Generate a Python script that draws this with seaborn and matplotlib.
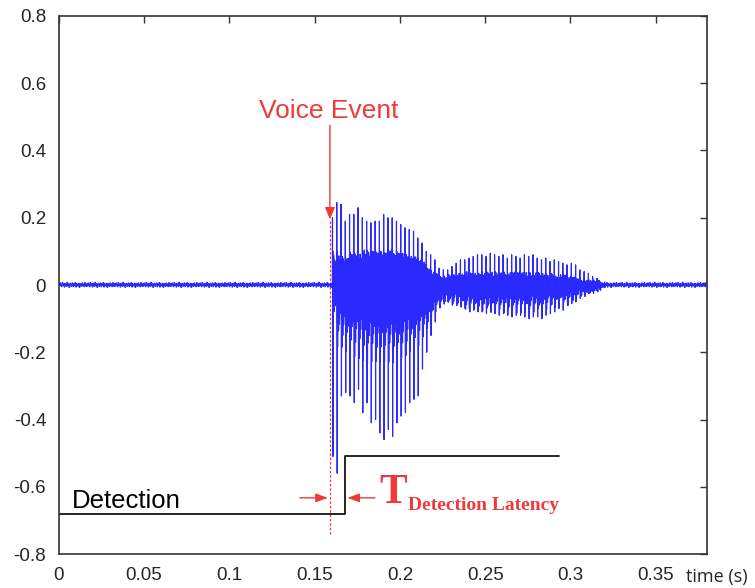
"""
plot.py - voice event waveform with detection latency annotation.

Output: out.png (755x588)
"""

import numpy as np
import pandas as pd
import matplotlib
matplotlib.use("Agg")
import matplotlib.pyplot as plt
import seaborn as sns

# ------------------------------------------------------------------
# Data
# ------------------------------------------------------------------
# voiced pulses: onset time (s), pulse period (s)
pulse_start = 0.1605
pulse_period = 0.0025

# positive spike height of each pitch pulse
pulse_pos = [0.20, 0.245, 0.24, 0.19, 0.21, 0.21, 0.23, 0.20, 0.19, 0.185,
             0.19, 0.19, 0.21, 0.20, 0.20, 0.19, 0.18, 0.17, 0.165, 0.16,
             0.14, 0.125, 0.10, 0.09, 0.075, 0.05, 0.045, 0.045, 0.055, 0.065,
             0.075, 0.075, 0.08, 0.085, 0.09, 0.09, 0.085, 0.095, 0.09, 0.085,
             0.09, 0.08, 0.09, 0.085, 0.08, 0.09, 0.085, 0.09, 0.08, 0.075,
             0.08, 0.07, 0.075, 0.07, 0.065, 0.06, 0.065, 0.06, 0.045, 0.04,
             0.035, 0.025, 0.02]

# negative spike depth of each pitch pulse
pulse_neg = [-0.51, -0.56, -0.33, -0.32, -0.33, -0.35, -0.31, -0.38, -0.35, -0.41,
             -0.40, -0.44, -0.46, -0.43, -0.45, -0.41, -0.39, -0.38, -0.35, -0.34,
             -0.33, -0.25, -0.20, -0.15, -0.11, -0.06, -0.05, -0.05, -0.06, -0.06,
             -0.065, -0.07, -0.07, -0.075, -0.08, -0.08, -0.085, -0.08, -0.085, -0.09,
             -0.085, -0.09, -0.095, -0.09, -0.09, -0.095, -0.10, -0.095, -0.095, -0.10,
             -0.09, -0.085, -0.08, -0.07, -0.075, -0.06, -0.055, -0.05, -0.04, -0.03,
             -0.025, -0.02, -0.015]

# amplitude of the dense ringing between spikes
pulse_ring = [0.08, 0.10, 0.10, 0.10, 0.11, 0.11, 0.11, 0.12, 0.12, 0.12,
              0.12, 0.12, 0.12, 0.12, 0.12, 0.12, 0.11, 0.11, 0.10, 0.10,
              0.09, 0.08, 0.065, 0.05, 0.04, 0.03, 0.03, 0.03, 0.03, 0.035,
              0.035, 0.04, 0.04, 0.04, 0.04, 0.04, 0.04, 0.04, 0.04, 0.04,
              0.04, 0.04, 0.04, 0.04, 0.04, 0.04, 0.04, 0.04, 0.04, 0.035,
              0.035, 0.035, 0.03, 0.03, 0.03, 0.028, 0.025, 0.02, 0.018, 0.015,
              0.012, 0.01, 0.008]

# background noise wiggle (repeated over the silent parts)
noise_pattern = [0.004, -0.003, 0.006, 0.001, -0.005, 0.007, -0.001, 0.003, -0.006, 0.005,
                 0.000, -0.004, 0.008, -0.002, 0.004, -0.007, 0.002, 0.005, -0.004, 0.001,
                 0.006, -0.005, 0.003, -0.001, 0.007, -0.006, 0.004, 0.000, -0.003, 0.005,
                 -0.007, 0.004, 0.001, -0.004, 0.006, -0.002, 0.003, -0.005, 0.007, 0.000,
                 -0.004]

# detection output (step)
det_time = [0.0, 0.168, 0.293]
det_level = [-0.681, -0.508, -0.508]

voice_event_t = 0.159
x_ticks = [0, 0.05, 0.1, 0.15, 0.2, 0.25, 0.3, 0.35]
y_ticks = [-0.8, -0.6, -0.4, -0.2, 0, 0.2, 0.4, 0.6, 0.8]

# ------------------------------------------------------------------
# Build the waveform from the pulse values
# ------------------------------------------------------------------
fs = 20000
t = np.arange(0, 0.38, 1 / fs)
sig = np.resize(np.repeat(noise_pattern, 8), len(t)).astype(float)

ring_len = int(2 * pulse_period * fs)
s = np.arange(ring_len) / fs
for k in range(len(pulse_pos)):
    i0 = int(round((pulse_start + k * pulse_period) * fs))
    ring = np.exp(-s / 0.003) * (np.sin(2 * np.pi * 1900 * s)
                                 + 0.5 * np.sin(2 * np.pi * 3700 * s))
    ring = pulse_ring[k] * np.where(ring < 0, 1.4 * ring, ring)
    n = min(ring_len, len(sig) - i0 - 1)
    sig[i0 + 1:i0 + 1 + n] += ring[:n]
    sig[i0] = pulse_pos[k]
    sig[i0 + 5] = pulse_neg[k]

wave = pd.DataFrame({"time": t, "amp": sig})
det = pd.DataFrame({"time": det_time, "level": det_level})

# ------------------------------------------------------------------
# Plot
# ------------------------------------------------------------------
sns.set_theme(style="white")
plt.rcParams["font.family"] = ["Liberation Sans", "DejaVu Sans"]

fig = plt.figure(figsize=(7.55, 5.88), dpi=100)
ax = fig.add_axes([0.0777, 0.0578, 0.8587, 0.915])

sns.lineplot(data=wave, x="time", y="amp", ax=ax, color="#2a2aff",
             linewidth=0.85, estimator=None, sort=False)
sns.lineplot(data=det, x="time", y="level", ax=ax, color="black",
             linewidth=1.2, estimator=None, drawstyle="steps-post")

red = "#f03a3a"
# voice event marker
ax.plot([voice_event_t, voice_event_t], [0.19, -0.745], color=red,
        linewidth=0.9, linestyle=(0, (2, 1.5)), zorder=1)
ax.annotate("", xy=(voice_event_t, 0.195), xytext=(voice_event_t, 0.475),
            arrowprops=dict(arrowstyle="-|>,head_length=0.6,head_width=0.25",
                            color=red, lw=1.0, shrinkA=0, shrinkB=0))
ax.text(0.1585, 0.496, "Voice Event", color=red, fontsize=19,
        ha="center", va="baseline")

# latency arrows
ax.annotate("", xy=(0.1578, -0.633), xytext=(0.1414, -0.633),
            arrowprops=dict(arrowstyle="-|>,head_length=0.6,head_width=0.22",
                            color=red, lw=1.0, shrinkA=0, shrinkB=0))
ax.annotate("", xy=(0.1692, -0.633), xytext=(0.1854, -0.633),
            arrowprops=dict(arrowstyle="-|>,head_length=0.6,head_width=0.22",
                            color=red, lw=1.0, shrinkA=0, shrinkB=0))
ax.text(0.1880, -0.648, "T", color=red, fontsize=30, fontweight="bold",
        family="Liberation Serif", va="baseline")
ax.text(0.2049, -0.668, "Detection Latency", color=red, fontsize=14,
        fontweight="bold", family="Liberation Serif", va="baseline")

ax.text(0.0078, -0.663, "Detection", color="black", fontsize=18.5,
        va="baseline")

# axes styling
ax.set_xlim(0, 0.38)
ax.set_ylim(-0.8, 0.8)
ax.set_xticks(x_ticks)
ax.set_xticklabels(["0", "0.05", "0.1", "0.15", "0.2", "0.25", "0.3", "0.35"])
ax.set_yticks(y_ticks)
ax.set_yticklabels(["-0.8", "-0.6", "-0.4", "-0.2", "0", "0.2", "0.4", "0.6", "0.8"])
ax.set_xlabel("")
ax.set_ylabel("")
ax.tick_params(direction="in", length=5, width=1.0, color="#333333",
               labelsize=13.5, top=True, right=True, pad=9)
for sp in ax.spines.values():
    sp.set_color("#333333")
    sp.set_linewidth(1.2)

fig.text(686 / 755, 1 - 582 / 588, "time (s)", fontsize=13,
         family=["Open Sans", "DejaVu Sans"], va="baseline")

fig.savefig("out.png", dpi=100)
plt.close(fig)
